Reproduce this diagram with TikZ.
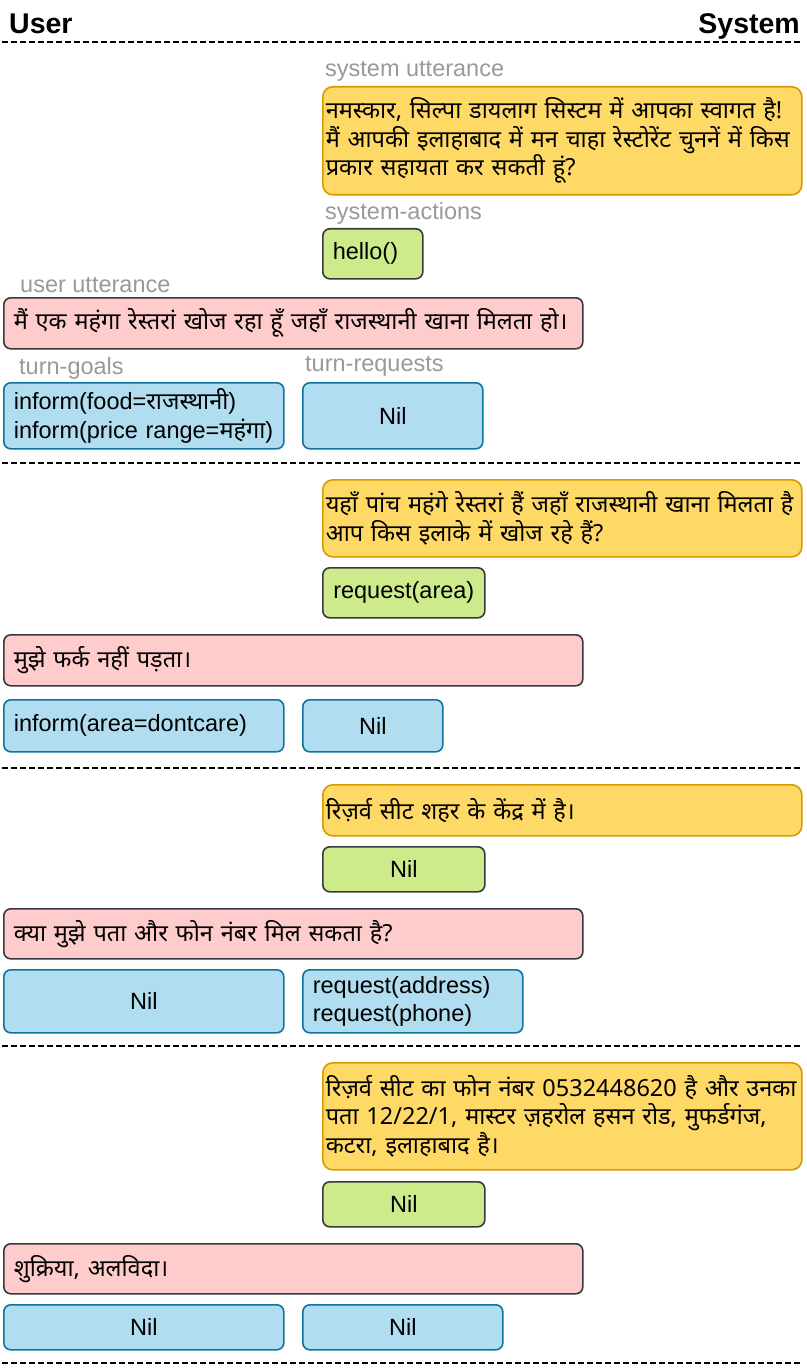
\documentclass[tikz,border=0pt]{standalone}
\usepackage{fontspec}
\setmainfont{Liberation Sans}
\newfontfamily\deva[Script=Devanagari,Scale=1.0]{Noto Sans}
\usepackage{tikz}
\definecolor{sysfill}{HTML}{FFD966}
\definecolor{sysline}{HTML}{D79B00}
\definecolor{actfill}{HTML}{CDEB8B}
\definecolor{usrfill}{HTML}{FFCCCC}
\definecolor{darkline}{HTML}{36393D}
\definecolor{goalfill}{HTML}{B1DDF0}
\definecolor{goalline}{HTML}{10739E}
\definecolor{labelgrey}{HTML}{999999}
\tikzset{
  box/.style={draw, line width=1.6pt, rounded corners=7pt, anchor=north west, inner ysep=0pt,
    font=\fontsize{23.5}{28.5}\selectfont},
  sysutt/.style={box, fill=sysfill, draw=sysline, rounded corners=10pt, minimum width=479pt,
    text width=473pt, inner xsep=3pt, align=left},
  usrutt/.style={box, fill=usrfill, draw=darkline, minimum width=579pt, text width=559pt,
    inner xsep=10pt, align=left, minimum height=50pt},
  sysact/.style={box, fill=actfill, draw=darkline},
  usrgoal/.style={box, fill=goalfill, draw=goalline},
  tag/.style={anchor=west, inner sep=0pt, text=labelgrey, font=\fontsize{23.5}{28}\selectfont},
  head/.style={inner sep=0pt, font=\fontsize{28.5}{32}\bfseries},
  sep/.style={line width=1.6pt, dash pattern=on 5.5pt off 3.5pt}
}
\begin{document}
\begin{tikzpicture}[x=1pt,y=-1pt]
        \useasboundingbox (0,0) rectangle (806,1372);
        \node[head, anchor=base west] (user) at (9,34) {User};
        \node[head, anchor=base east] (system) at (800,34) {System};
        \foreach \y in {42,463,768,1046,1363}
            \draw[sep] (2,\y) -- (801,\y);

        \node[tag] (su-tag) at (325,71) {system utterance};
        \node[sysutt, minimum height=108pt] (su1) at (322,86) {\deva नमस्कार, सिल्पा डायलाग सिस्टम में आपका स्वागत है!\\ मैं आपकी इलाहाबाद में मन चाहा रेस्टोरेंट चुननें में किस\\ प्रकार सहायता कर सकती हूं?};
        \node[tag] (sa-tag) at (325,213) {system-actions};
        \node[sysact, minimum width=100pt, text width=80pt, inner xsep=10pt, align=left, minimum height=50pt] (sa1) at (322,228) {hello()};
        \node[tag] (uu-tag) at (20,285) {user utterance};
        \node[usrutt, minimum height=51pt] (uu1) at (3,297) {\deva मैं एक महंगा रेस्तरां खोज रहा हूँ जहाँ राजस्थानी खाना मिलता हो।};
        \node[tag] (tg-tag) at (19,368) {turn-goals};
        \node[tag] (tr-tag) at (305,366) {turn-requests};
        \node[usrgoal, minimum width=280pt, text width=260pt, inner xsep=10pt, align=left, minimum height=66pt] (tg1) at (3,382) {inform(food={\deva राजस्थानी})\\ inform(price range={\deva महंगा})};
        \node[usrgoal, minimum width=180pt, minimum height=66pt] (tr1) at (302,382) {Nil};

        \node[sysutt, minimum height=77pt] (su2) at (322,479) {\deva यहाँ पांच महंगे रेस्तरां हैं जहाँ राजस्थानी खाना मिलता है\\ आप किस इलाके में खोज रहे हैं?};
        \node[sysact, minimum width=162pt, minimum height=50pt] (sa2) at (322,567) {request(area)};
        \node[usrutt, minimum height=51pt] (uu2) at (3,634) {\deva मुझे फर्क नहीं पड़ता।};
        \node[usrgoal, minimum width=280pt, text width=260pt, inner xsep=10pt, align=left, minimum height=52pt] (tg2) at (3,699) {inform(area=dontcare)};
        \node[usrgoal, minimum width=140pt, minimum height=52pt] (tr2) at (302,699) {Nil};

        \node[sysutt, minimum height=51pt] (su3) at (322,784) {\deva रिज़र्व सीट शहर के केंद्र में है।};
        \node[sysact, minimum width=162pt, minimum height=45pt] (sa3) at (322,846) {Nil};
        \node[usrutt] (uu3) at (3,908) {\deva क्या मुझे पता और फोन नंबर मिल सकता है?};
        \node[usrgoal, minimum width=280pt, minimum height=63pt] (tg3) at (3,969) {Nil};
        \node[usrgoal, minimum width=220pt, text width=200pt, inner xsep=10pt, align=left, minimum height=63pt] (tr3) at (302,969) {request(address)\\ request(phone)};

        \node[sysutt, minimum height=107pt] (su4) at (322,1062) {\deva रिज़र्व सीट का फोन नंबर 0532448620 है और उनका\\ पता 12/22/1, मास्टर ज़हरोल हसन रोड, मुफर्डगंज,\\ कटरा, इलाहाबाद है।};
        \node[sysact, minimum width=162pt, minimum height=45pt] (sa4) at (322,1181) {Nil};
        \node[usrutt] (uu4) at (3,1243) {\deva शुक्रिया, अलविदा।};
        \node[usrgoal, minimum width=280pt, minimum height=45pt] (tg4) at (3,1304) {Nil};
        \node[usrgoal, minimum width=200pt, minimum height=45pt] (tr4) at (302,1304) {Nil};
\end{tikzpicture}
\end{document}
